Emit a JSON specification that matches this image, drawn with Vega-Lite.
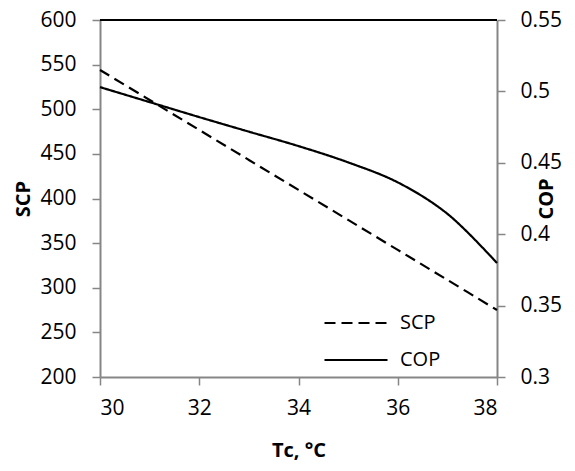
{
  "$schema": "https://vega.github.io/schema/vega-lite/v6.json",
  "width": 397,
  "height": 357,
  "autosize": {"type": "none"},
  "padding": {"left": 100, "top": 20, "right": 78, "bottom": 94},
  "background": "white",
  "config": {
    "view": {"stroke": null},
    "font": "Open Sans",
    "axis": {
      "grid": false,
      "domainColor": "#868686",
      "domainWidth": 2,
      "tickColor": "#868686",
      "tickWidth": 1.5,
      "tickSize": 8,
      "labelFontSize": 21,
      "labelColor": "black",
      "labelFont": "Open Sans",
      "titleFont": "Open Sans",
      "titleFontSize": 20,
      "titleFontWeight": "bold",
      "titleColor": "black"
    },
    "legend": {"padding": 0}
  },
  "data": {
    "values": [
      {"T": 30, "SCP": 544, "COP": 0.503},
      {"T": 31, "SCP": 510.4, "COP": 0.4925},
      {"T": 32, "SCP": 476.8, "COP": 0.482},
      {"T": 33, "SCP": 443.2, "COP": 0.4718},
      {"T": 34, "SCP": 409.6, "COP": 0.4617},
      {"T": 35, "SCP": 376, "COP": 0.4503},
      {"T": 36, "SCP": 342.4, "COP": 0.4363},
      {"T": 37, "SCP": 308.8, "COP": 0.4143},
      {"T": 38, "SCP": 275, "COP": 0.3798}
    ]
  },
  "layer": [
    {
      "layer": [
        {
          "mark": {"type": "rule", "color": "black", "strokeWidth": 2},
          "encoding": {
            "y": {"datum": 600, "type": "quantitative", "title": "SCP"}
          }
        },
        {
          "mark": {"type": "line", "color": "black", "strokeWidth": 2.2, "interpolate": "catmull-rom"},
          "encoding": {
            "x": {
              "field": "T",
              "type": "quantitative",
              "scale": {"domain": [30, 38], "nice": false, "zero": false},
              "axis": {"values": [30, 32, 34, 36, 38], "title": "Tc, °C", "labelPadding": 12, "titlePadding": 22}
            },
            "y": {
              "field": "SCP",
              "type": "quantitative",
              "scale": {"domain": [200, 600], "nice": false, "zero": false},
              "axis": {"values": [200, 250, 300, 350, 400, 450, 500, 550, 600], "title": "SCP", "labelPadding": 16, "titlePadding": 6}
            },
            "strokeDash": {
              "datum": "SCP",
              "type": "nominal",
              "scale": {"domain": ["SCP", "COP"], "range": [[11, 6], [1, 0]]},
              "legend": {
                "title": null,
                "orient": "none",
                "legendX": 244,
                "legendY": 291,
                "symbolType": "M-3,0H3",
                "symbolSize": 441,
                "symbolStrokeWidth": 2.2,
                "symbolStrokeColor": "black",
                "labelFontSize": 20,
                "labelFont": "Open Sans",
                "labelColor": "black",
                "labelOffset": 32,
                "rowPadding": 15
              }
            }
          }
        }
      ]
    },
    {
      "mark": {"type": "line", "color": "black", "strokeWidth": 2.2, "interpolate": "catmull-rom"},
      "encoding": {
        "x": {"field": "T", "type": "quantitative"},
        "y": {
          "field": "COP",
          "type": "quantitative",
          "scale": {"domain": [0.3, 0.55], "nice": false, "zero": false},
          "axis": {"orient": "right", "values": [0.3, 0.35, 0.4, 0.45, 0.5, 0.55], "format": ".2~f", "title": "COP", "titleAngle": -90, "labelPadding": 15, "titlePadding": -5}
        },
        "strokeDash": {"datum": "COP", "type": "nominal"}
      }
    }
  ],
  "resolve": {"scale": {"y": "independent"}}
}
